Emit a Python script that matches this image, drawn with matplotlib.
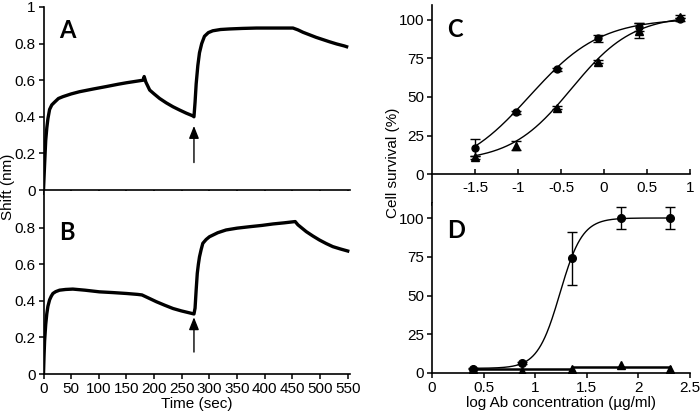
import numpy as np
import matplotlib
matplotlib.use('Agg')
import matplotlib.pyplot as plt
from matplotlib.ticker import FuncFormatter

plt.rcParams['font.family'] = ['Liberation Sans', 'DejaVu Sans']
plt.rcParams['axes.unicode_minus'] = False

# panel A sensorgram (time in s, shift in nm)
a_time = [0, 2, 4, 6, 8, 11, 15, 20, 27, 35, 50, 65, 90, 113, 135, 150, 165, 180, 182, 185,
          192, 200, 210, 222, 234, 246, 258, 270, 272, 274, 276, 279, 282, 286, 291, 298, 306,
          320, 336, 360, 385, 420, 451, 460, 469, 481, 493, 505, 517, 530, 544, 548]
a_shift = [0, 0.14, 0.27, 0.34, 0.39, 0.44, 0.465, 0.48, 0.50, 0.51, 0.525, 0.537, 0.552, 0.565,
           0.578, 0.586, 0.593, 0.60, 0.62, 0.59, 0.546, 0.525, 0.50, 0.476, 0.455, 0.437, 0.42,
           0.405, 0.40, 0.48, 0.58, 0.68, 0.75, 0.80, 0.84, 0.86, 0.87, 0.877, 0.88, 0.883, 0.885,
           0.885, 0.885, 0.875, 0.862, 0.848, 0.834, 0.822, 0.81, 0.798, 0.787, 0.783]

# panel B sensorgram
b_time = [0, 1, 2, 4, 6, 8, 11, 14, 17, 22, 29, 40, 53, 75, 101, 125, 150, 170, 178, 190, 204,
          219, 234, 249, 264, 272, 274, 276, 278, 280, 282, 285, 288, 294, 300, 315, 330, 350,
          373, 395, 415, 435, 455, 460, 475, 487, 499, 511, 523, 537, 550]
b_shift = [0, 0.1, 0.18, 0.27, 0.33, 0.37, 0.405, 0.425, 0.44, 0.45, 0.458, 0.462, 0.464, 0.458,
           0.449, 0.445, 0.44, 0.435, 0.432, 0.415, 0.395, 0.376, 0.358, 0.345, 0.334, 0.328,
           0.36, 0.46, 0.55, 0.60, 0.64, 0.68, 0.714, 0.735, 0.75, 0.772, 0.787, 0.797, 0.805,
           0.812, 0.82, 0.826, 0.833, 0.815, 0.778, 0.754, 0.732, 0.713, 0.696, 0.683, 0.672]

injection_time = 272
arrow_a = (0.15, 0.35)
arrow_b = (0.12, 0.31)

# panel C: log concentration vs survival
c_x = [-1.5, -1.023, -0.546, -0.069, 0.408, 0.885]
c_circ = [17, 40, 68, 88, 95.5, 100.5]
c_circ_err = [5.5, 1, 1, 2, 2.5, 1]
c_tri = [11, 18.5, 43, 73, 93, 102]
c_tri_err = [1, 3, 1, 1, 5, 1]
# fitted sigmoid parameters (bottom, top, logEC50, hill)
c_circ_fit = (0, 101, -0.867, 1.05)
c_tri_fit = (8, 103, -0.377, 1.22)

# panel D
d_x = [0.398, 0.875, 1.352, 1.829, 2.306]
d_circ = [2.8, 6.5, 74, 100, 100]
d_circ_err = [0.5, 0.5, 17, 7, 7]
d_tri = [2.5, 1, 2.8, 5.4, 2.8]
d_circ_fit = (3, 100, 1.24, 4.0)
d_tri_line_x = [0.398, 1.352, 1.352, 2.306]
d_tri_line_y = [2.8, 2.8, 4.1, 4.1]


def sigmoid(x, p):
    bottom, top, ec50, hill = p
    return bottom + (top - bottom) / (1 + 10 ** ((ec50 - x) * hill))


def px_rect(l, t, r, b):
    return [l / 700, 1 - b / 413, (r - l) / 700, (b - t) / 413]


def style(ax):
    for s in ['top', 'right']:
        ax.spines[s].set_visible(False)
    for s in ['left', 'bottom']:
        ax.spines[s].set_linewidth(1.2)
    ax.tick_params(labelsize=11, length=3.5, width=1.1, pad=2)
    ax.yaxis.set_major_formatter(FuncFormatter(lambda v, _: f"{v:g}"))
    ax.xaxis.set_major_formatter(FuncFormatter(lambda v, _: f"{v:g}"))


fig = plt.figure(figsize=(7, 4.13), dpi=100)

axA = fig.add_axes(px_rect(43.5, 7, 350.5, 190))
axB = fig.add_axes(px_rect(43.5, 191, 350.5, 374))
axC = fig.add_axes(px_rect(432, 4.6, 690, 204.8))
axD = fig.add_axes(px_rect(432, 202.5, 690, 373))

for ax, t, s, arr, yt in [(axA, a_time, a_shift, arrow_a, np.arange(0, 1.01, 0.2)),
                          (axB, b_time, b_shift, arrow_b, np.arange(0, 0.81, 0.2))]:
    style(ax)
    ax.plot(t, s, color='black', lw=2.4, solid_joinstyle='round')
    ax.annotate('', xy=(injection_time, arr[1]), xytext=(injection_time, arr[0]),
                arrowprops=dict(arrowstyle='-|>,head_width=0.3,head_length=0.75',
                                color='black', lw=1.0, shrinkA=0, shrinkB=0))
    ax.set_xlim(0, 555)
    ax.set_ylim(0, 1)
    ax.set_xticks(np.arange(0, 551, 50))
    ax.set_yticks(yt)

axA.tick_params(labelbottom=False)
axB.set_xlabel('Time (sec)', fontsize=11, labelpad=1)

# panel C
style(axC)
axC.spines['bottom'].set_position(('data', 0))
axC.set_xlim(-2, 1)
axC.set_ylim(-20, 110)
axC.set_xticks([-1.5, -1, -0.5, 0, 0.5, 1])
axC.set_yticks([0, 25, 50, 75, 100])
axC.tick_params(axis='x', direction='in', pad=5)
xs = np.linspace(c_x[0], c_x[-1], 200)
axC.plot(xs, sigmoid(xs, c_circ_fit), color='black', lw=1)
axC.plot(xs, sigmoid(xs, c_tri_fit), color='black', lw=1)
axC.errorbar(c_x, c_circ, yerr=c_circ_err, fmt='o', color='black', ms=5,
             capsize=3.5, elinewidth=1, capthick=1)
axC.errorbar(c_x, c_tri, yerr=c_tri_err, fmt='^', color='black', ms=5.5,
             capsize=3.5, elinewidth=1, capthick=1)

# panel D
style(axD)
axD.set_xlim(0, 2.5)
axD.set_ylim(0, 110)
axD.set_xticks([0, 0.5, 1, 1.5, 2, 2.5])
axD.set_yticks([0, 25, 50, 75, 100])
xs = np.linspace(d_x[0], d_x[-1], 300)
axD.plot(xs, sigmoid(xs, d_circ_fit), color='black', lw=1)
axD.plot(d_tri_line_x, d_tri_line_y, color='black', lw=1.8)
axD.errorbar(d_x, d_tri, fmt='^', color='black', ms=5.5)
axD.errorbar(d_x, d_circ, yerr=d_circ_err, fmt='o', color='black', ms=5.5,
             capsize=3.5, elinewidth=1, capthick=1)
axD.set_xlabel('log Ab concentration (µg/ml)', fontsize=11, labelpad=1)

# shared labels
fig.text(8 / 700, 1 - 187 / 413, 'Shift (nm)', rotation=90, ha='center', va='center', fontsize=11)
fig.text(393 / 700, 1 - 163 / 413, 'Cell survival (%)', rotation=90, ha='center', va='center',
         fontsize=11)

for letter, x, y in [('A', 59, 38), ('B', 59, 240), ('C', 447, 37), ('D', 447, 238)]:
    fig.text(x / 700, 1 - y / 413, letter, family='Lato', weight='bold', fontsize=17,
             ha='left', va='baseline')

fig.savefig('out.png', dpi=100)
